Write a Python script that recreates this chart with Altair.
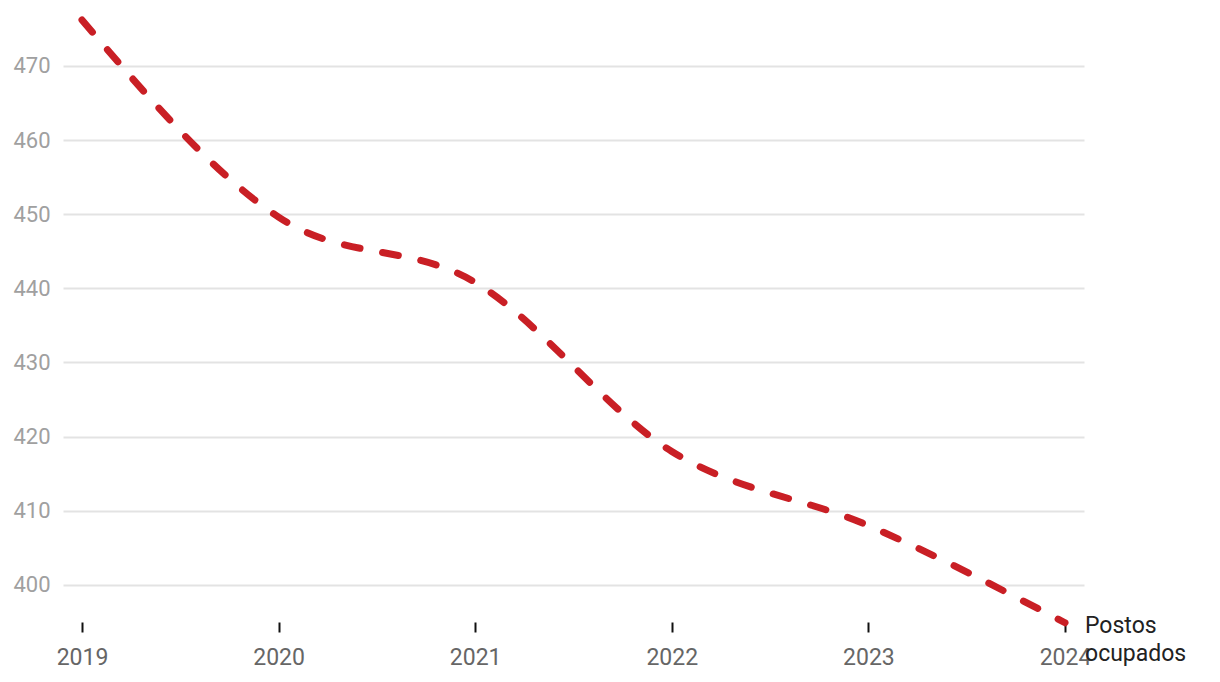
import altair as alt
import pandas as pd

years = [2019, 2020, 2021, 2022, 2023, 2024]
postos = [476.2, 449.6, 440.8, 418.0, 408.0, 394.9]
label_text = "Postos\nocupados"

df = pd.DataFrame({"ano": years, "valor": postos})
lab = pd.DataFrame({"ano": [years[-1]], "valor": [postos[-1]], "t": [label_text]})

FONT = "Roboto"

x = alt.X("ano:Q",
          scale=alt.Scale(domain=[2019 - 0.0966, 2024 + 0.0966], nice=False, zero=False),
          axis=alt.Axis(values=years, format="d", title=None, grid=False, domain=False,
                        ticks=True, tickSize=10, tickColor="#111111", tickWidth=2,
                        labelFontSize=23, labelColor="#666666", labelPadding=14,
                        labelFont=FONT))
y = alt.Y("valor:Q",
          scale=alt.Scale(domain=[395, 477], nice=False, zero=False),
          axis=alt.Axis(values=[400, 410, 420, 430, 440, 450, 460, 470], title=None,
                        domain=False, ticks=False, grid=True, gridColor="#e3e3e3",
                        gridWidth=2, labelFontSize=22, labelColor="#a0a0a0",
                        labelPadding=13, labelFont=FONT))

line = alt.Chart(df).mark_line(
    color="#c91f25", strokeWidth=7, strokeDash=[16, 23], strokeCap="round",
    interpolate="monotone", clip=False
).encode(x=x, y=y)

text = alt.Chart(lab).mark_text(
    align="left", baseline="alphabetic", dx=20, dy=10, fontSize=23,
    lineBreak="\n", lineHeight=28, color="#222222", font=FONT
).encode(x="ano:Q", y="valor:Q", text="t:N")

chart = alt.layer(line, text).properties(
    width=1021, height=608,
    autosize=alt.AutoSizeParams(type="none"),
    padding={"left": 63, "top": 14, "right": 136, "bottom": 60},
).configure(font=FONT).configure_view(stroke="transparent", strokeWidth=0)

chart.save("out.html", embed_options={"renderer": "svg", "actions": False})
